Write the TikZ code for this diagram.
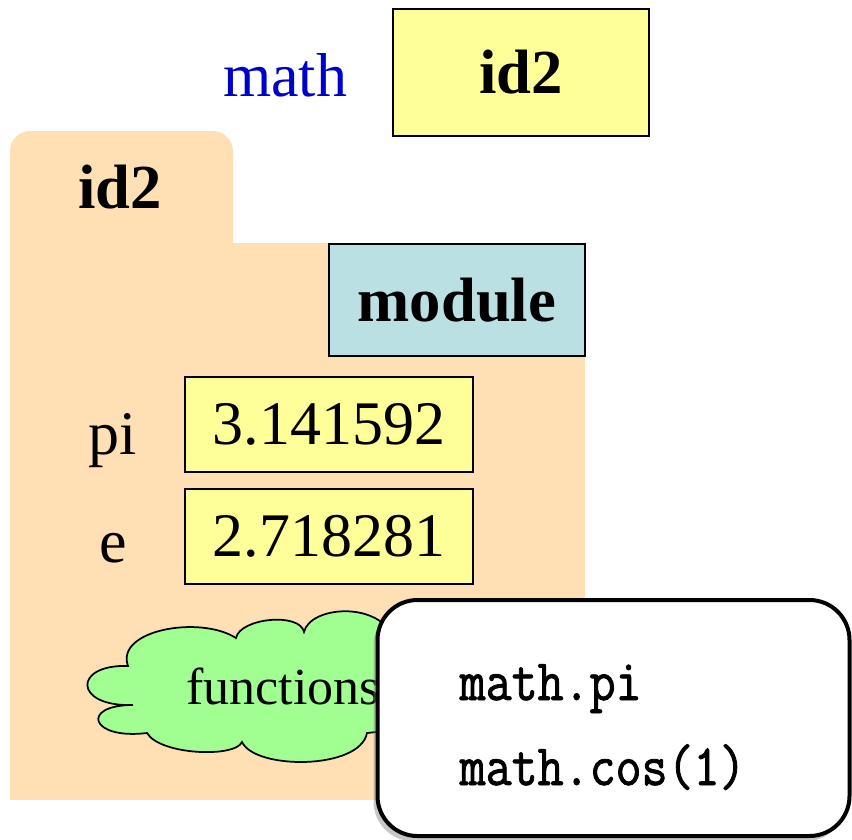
\documentclass[tikz,border=0pt]{standalone}
\usepackage{fontspec}
\setmainfont{Liberation Serif}
\newfontfamily\callfont{Latin Modern Mono}[FakeBold=1.4,FakeStretch=0.86]
\usetikzlibrary{shadows}
\definecolor{folderc}{RGB}{255,224,181}
\definecolor{yel}{RGB}{255,255,153}
\definecolor{modc}{RGB}{187,224,227}
\definecolor{cloudc}{RGB}{160,255,144}
\definecolor{mathblue}{RGB}{0,0,204}
\tikzset{
  valbox/.style={draw=black,line width=1.3pt,fill=yel,inner sep=0pt},
  bigtxt/.style={font=\fontsize{46.5}{50}\selectfont},
  boldtxt/.style={font=\fontsize{47}{50}\selectfont\bfseries},
  calltxt/.style={font=\fontsize{44}{46}\callfont,anchor=base west},
}
\begin{document}
\begin{tikzpicture}[x=0.75pt,y=-0.75pt]
\useasboundingbox (0,0) rectangle (852,839);
% folder
\fill[folderc,rounded corners=15pt] (10,270) rectangle (233,131);
\fill[folderc] (10,243) rectangle (585,800);
\node[boldtxt] (tab) at (120,187) {id2};
% top
\node[bigtxt,text=mathblue] (mathlbl) at (285,75) {math};
\node[valbox,boldtxt,minimum width=192pt,minimum height=95.25pt] (idbox) at (521,72.5) {id2};
% module
\node[valbox,fill=modc,boldtxt,minimum width=192pt,minimum height=84pt] (mod) at (457,300) {module};
% variables
\node[bigtxt] (pil) at (113,441) {pi};
\node[valbox,bigtxt,minimum width=216pt,minimum height=71.25pt] (pib) at (329,424.5) {3.141592};
\node[bigtxt] (el) at (113,548) {e};
\node[valbox,bigtxt,minimum width=216pt,minimum height=71.25pt] (eb) at (329,536.5) {2.718281};
% cloud
\draw[fill=cloudc,line width=1.3pt]
  (133,705) .. controls (73,707) and (73,664) .. (128,666)
  .. controls (115,630) and (200,615) .. (236,638)
  .. controls (240,618) and (300,612) .. (304,632)
  .. controls (310,606) and (380,600) .. (395,640)
  -- (395,730) -- (367,733)
  .. controls (360,770) and (255,770) .. (242,742)
  .. controls (235,758) and (160,755) .. (147,733)
  .. controls (90,740) and (80,705) .. cycle;
\node[font=\fontsize{39}{42}\selectfont] (ft) at (283,686) {functions};
% callout
\node[draw=black,line width=3pt,fill=white,rounded corners=30pt,
      minimum width=354pt,minimum height=177pt,
      drop shadow={shadow xshift=-3pt,shadow yshift=-4pt,opacity=0.45}] (call) at (613.5,718) {};
\node[calltxt] (c1) at (455,700) {math.pi};
\node[calltxt] (c2) at (455,785) {math.cos(1)};
\end{tikzpicture}
\end{document}
